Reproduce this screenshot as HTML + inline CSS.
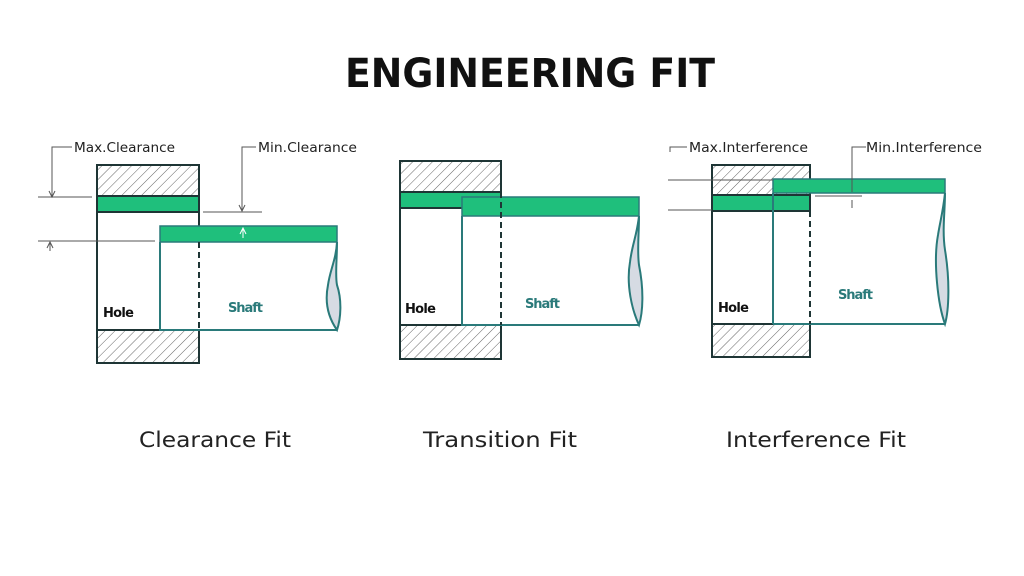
<!DOCTYPE html>
<html><head><meta charset="utf-8"><style>html,body{margin:0;padding:0;background:#fff}svg{display:block}</style></head>
<body>
<svg width="1024" height="576" viewBox="0 0 1024 576" xmlns="http://www.w3.org/2000/svg" font-family="DejaVu Sans, Liberation Sans, sans-serif">
<defs>
<pattern id="h" width="7" height="7" patternUnits="userSpaceOnUse" patternTransform="rotate(45)">
<rect width="7" height="7" fill="#fff"/><line x1="0" y1="0" x2="0" y2="7" stroke="#666" stroke-width="1"/>
</pattern>
</defs>
<text x="345" y="87" font-size="40" font-weight="bold" fill="#111" textLength="370" lengthAdjust="spacingAndGlyphs">ENGINEERING FIT</text>

<!-- Clearance -->
<g>
<rect x="97" y="165" width="102" height="31" fill="url(#h)" stroke="#1e3535" stroke-width="2"/>
<rect x="97" y="330" width="102" height="33" fill="url(#h)" stroke="#1e3535" stroke-width="2"/>
<rect x="97" y="196" width="102" height="16" fill="#1fbf7c" stroke="#1e3535" stroke-width="2"/>
<line x1="97" y1="212" x2="97" y2="330" stroke="#1e3535" stroke-width="2"/>
<line x1="199" y1="212" x2="199" y2="242" stroke="#1e3535" stroke-width="2"/>
<rect x="160" y="226" width="177" height="16" fill="#1fbf7c" stroke="#2a7a7a" stroke-width="1.5"/>
<path d="M160 242 V330 H337" fill="none" stroke="#2a7a7a" stroke-width="2"/>
<path d="M337 242 C336 260 330 270 328 285 C324 305 330 320 337 330 C341 318 342 300 337 285 C335 275 337 260 337 242" fill="#d6dbe3" stroke="#2a7a7a" stroke-width="2"/>
<line x1="199" y1="242" x2="199" y2="330" stroke="#1e3535" stroke-width="2" stroke-dasharray="6,4"/>
<text x="103" y="317" font-size="13" font-weight="bold" fill="#111" textLength="31">Hole</text>
<text x="228" y="312" font-size="13" font-weight="bold" fill="#2a7a7a" textLength="35">Shaft</text>
<path d="M72 147 H52 V197" fill="none" stroke="#555" stroke-width="1"/>
<path d="M49 191 L52 197 L55 191" fill="none" stroke="#555" stroke-width="1"/>
<line x1="38" y1="197" x2="92" y2="197" stroke="#555" stroke-width="1"/>
<line x1="38" y1="241" x2="155" y2="241" stroke="#555" stroke-width="1"/>
<path d="M47 248 L50 242 L53 248 M50 242 V251" fill="none" stroke="#555" stroke-width="1"/>
<text x="74" y="152" font-size="13" fill="#222" textLength="101" lengthAdjust="spacingAndGlyphs">Max.Clearance</text>
<path d="M256 147 H242 V211" fill="none" stroke="#555" stroke-width="1"/>
<path d="M239 205 L242 211 L245 205" fill="none" stroke="#555" stroke-width="1"/>
<line x1="203" y1="212" x2="262" y2="212" stroke="#555" stroke-width="1"/>
<path d="M240 234 L243 228 L246 234 M243 228 V238" fill="none" stroke="#fff" stroke-width="1"/>
<text x="258" y="152" font-size="13" fill="#222" textLength="99" lengthAdjust="spacingAndGlyphs">Min.Clearance</text>
</g>

<!-- Transition -->
<g>
<rect x="400" y="161" width="101" height="31" fill="url(#h)" stroke="#1e3535" stroke-width="2"/>
<rect x="400" y="325" width="101" height="34" fill="url(#h)" stroke="#1e3535" stroke-width="2"/>
<rect x="400" y="192" width="101" height="16" fill="#1fbf7c" stroke="#1e3535" stroke-width="2"/>
<line x1="400" y1="208" x2="400" y2="325" stroke="#1e3535" stroke-width="2"/>
<rect x="462" y="197" width="177" height="19" fill="#1fbf7c" stroke="#2a7a7a" stroke-width="1.5"/>
<path d="M462 216 V325 H639" fill="none" stroke="#2a7a7a" stroke-width="2"/>
<path d="M639 216 C637 235 632 245 630 262 C626 285 632 310 639 325 C643 312 644 290 639 265 C637 250 639 235 639 216" fill="#d6dbe3" stroke="#2a7a7a" stroke-width="2"/>
<line x1="501" y1="192" x2="501" y2="325" stroke="#1e3535" stroke-width="2" stroke-dasharray="6,4"/>
<text x="405" y="313" font-size="13" font-weight="bold" fill="#111" textLength="31">Hole</text>
<text x="525" y="308" font-size="13" font-weight="bold" fill="#2a7a7a" textLength="35">Shaft</text>
</g>

<!-- Interference -->
<g>
<rect x="712" y="165" width="98" height="30" fill="url(#h)" stroke="#1e3535" stroke-width="2"/>
<rect x="712" y="324" width="98" height="33" fill="url(#h)" stroke="#1e3535" stroke-width="2"/>
<rect x="773" y="179" width="172" height="14" fill="#1fbf7c" stroke="#2a7a7a" stroke-width="1.5"/>
<rect x="712" y="195" width="98" height="16" fill="#1fbf7c" stroke="#1e3535" stroke-width="2"/>
<line x1="773" y1="193" x2="773" y2="324" stroke="#2a7a7a" stroke-width="2"/>
<line x1="773" y1="324" x2="945" y2="324" stroke="#2a7a7a" stroke-width="2"/>
<line x1="712" y1="211" x2="712" y2="324" stroke="#1e3535" stroke-width="2"/>
<path d="M945 193 C943 212 940 222 938 235 C933 262 938 305 945 324 C949 310 950 280 945 250 C942 230 945 212 945 193" fill="#d6dbe3" stroke="#2a7a7a" stroke-width="2"/>
<line x1="810" y1="211" x2="810" y2="324" stroke="#1e3535" stroke-width="2" stroke-dasharray="6,4"/>
<text x="718" y="312" font-size="13" font-weight="bold" fill="#111" textLength="31">Hole</text>
<text x="838" y="299" font-size="13" font-weight="bold" fill="#2a7a7a" textLength="35">Shaft</text>
<line x1="668" y1="180" x2="773" y2="180" stroke="#555" stroke-width="1"/>
<line x1="668" y1="210" x2="712" y2="210" stroke="#555" stroke-width="1"/>
<path d="M687 147 H670 V152" fill="none" stroke="#555" stroke-width="1"/>
<text x="689" y="152" font-size="13" fill="#222" textLength="119" lengthAdjust="spacingAndGlyphs">Max.Interference</text>
<path d="M866 147 H852 V192" fill="none" stroke="#555" stroke-width="1"/>
<line x1="852" y1="200" x2="852" y2="208" stroke="#555" stroke-width="1"/>
<line x1="815" y1="196" x2="862" y2="196" stroke="#555" stroke-width="1"/>
<text x="866" y="152" font-size="13" fill="#222" textLength="116" lengthAdjust="spacingAndGlyphs">Min.Interference</text>
</g>

<text x="139" y="447" font-size="21" fill="#222" textLength="152" lengthAdjust="spacingAndGlyphs">Clearance Fit</text>
<text x="423" y="447" font-size="21" fill="#222" textLength="154" lengthAdjust="spacingAndGlyphs">Transition Fit</text>
<text x="726" y="447" font-size="21" fill="#222" textLength="180" lengthAdjust="spacingAndGlyphs">Interference Fit</text>
</svg>
</body></html>
